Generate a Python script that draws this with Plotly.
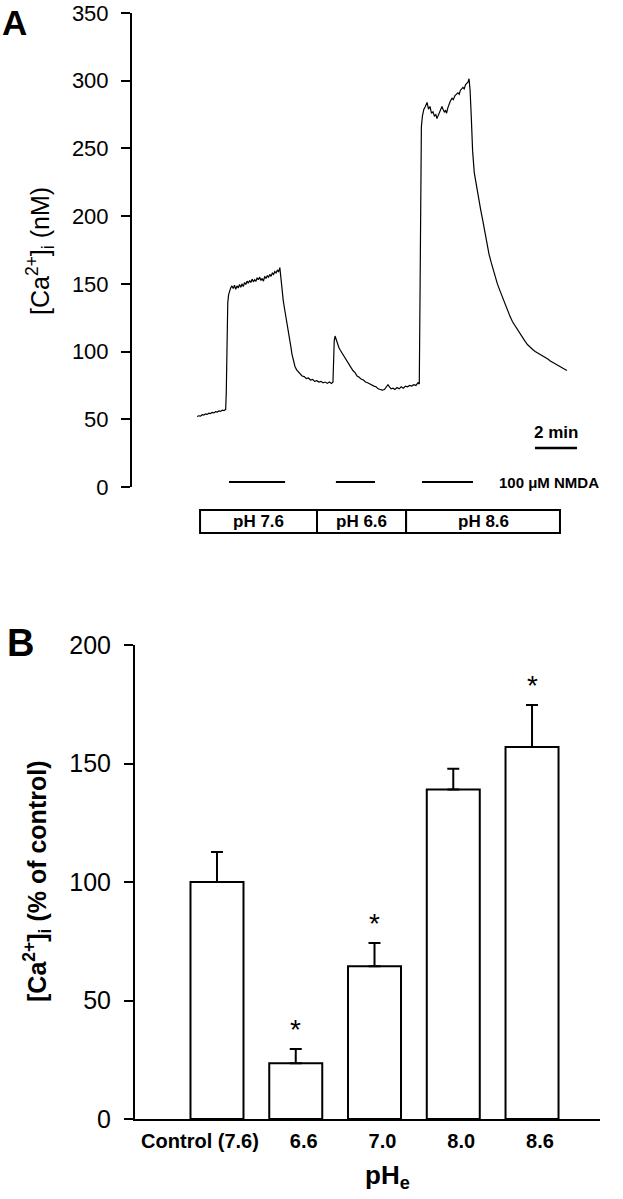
import plotly.graph_objects as go

W, H = 623, 1199

# ---- panel A: [Ca2+]i trace (time in min, value in nM) ----
trace_t = [
    3.10, 3.18, 3.26, 3.34, 3.42, 3.50, 3.58, 3.66, 3.74, 3.82, 3.90, 3.98, 4.06, 4.14, 4.22, 4.30, 4.38, 4.46,
    4.49, 4.51, 4.53, 4.56, 4.60, 4.65, 4.70,
    4.76, 4.82, 4.88, 4.94, 5.00, 5.06, 5.12, 5.18, 5.24, 5.30, 5.36, 5.42, 5.48, 5.54, 5.60, 5.66, 5.72,
    5.78, 5.84, 5.90, 5.96, 6.02, 6.08, 6.14, 6.20, 6.26, 6.32, 6.38, 6.44, 6.50, 6.56, 6.62, 6.68, 6.74,
    6.80, 6.86, 6.92, 6.98, 7.04,
    7.08, 7.12, 7.16, 7.20, 7.26, 7.32, 7.38, 7.44, 7.50, 7.56, 7.62, 7.68, 7.76, 7.84, 7.92, 8.00, 8.10,
    8.20, 8.30, 8.40, 8.50, 8.60, 8.70, 8.80, 8.90, 9.00, 9.10, 9.20, 9.30, 9.40, 9.50, 9.57,
    9.60, 9.63, 9.67, 9.72, 9.78, 9.85, 9.92, 10.00, 10.10, 10.20, 10.30, 10.40, 10.52, 10.62, 10.72,
    10.82, 10.92, 11.02, 11.12, 11.22, 11.32, 11.42, 11.52, 11.62, 11.72, 11.82, 11.92, 12.02, 12.10,
    12.19, 12.26, 12.34, 12.43, 12.52, 12.62, 12.72, 12.82, 12.92, 13.02, 13.12, 13.22, 13.32, 13.42,
    13.52, 13.62, 13.68,
    13.72, 13.75, 13.78, 13.83, 13.90, 13.97, 14.05, 14.12, 14.19, 14.26, 14.33, 14.40, 14.47, 14.52,
    14.58, 14.64, 14.70, 14.76, 14.81, 14.87, 14.93, 14.98, 15.04, 15.10, 15.16, 15.24, 15.30, 15.38,
    15.45, 15.52, 15.58, 15.64, 15.70, 15.76, 15.82, 15.88, 15.94, 16.00, 16.05,
    16.10, 16.16, 16.22, 16.30, 16.40, 16.50, 16.60, 16.70, 16.80, 16.90, 17.00, 17.10, 17.20, 17.30,
    17.40, 17.52, 17.64, 17.76, 17.88, 18.00, 18.12, 18.24, 18.36, 18.48, 18.60, 18.72, 18.84, 18.96,
    19.08, 19.20, 19.32, 19.44, 19.56, 19.68, 19.80, 19.92, 20.04, 20.16, 20.28, 20.40, 20.50, 20.60, 20.71,
]
trace_ca = [
    52.0, 52.6, 52.3, 53.4, 53.1, 54.0, 53.6, 54.5, 54.2, 55.1, 54.7, 55.6, 55.3, 56.2, 55.8, 56.7, 56.4, 57.2,
    70, 100, 122, 136, 142, 145, 147,
    148.5, 146.5, 149, 146, 148.5, 147, 149.5, 147.5, 150, 148, 151, 149.5, 152, 150.5, 152.5, 151, 153.5,
    151.5, 153, 152, 154.5, 153, 155, 152.5, 154, 152, 155.5, 154, 156, 155, 157, 155.5, 158, 157,
    159, 158, 160, 159, 162,
    155, 148, 142, 138, 132, 127, 122, 116, 110, 104, 98, 93, 89, 86.5, 85, 83.5, 82,
    81.5, 80, 80.5, 79, 79.5, 78, 78.5, 77.5, 78, 77, 77.5, 76.5, 77.5, 76.5, 77.5,
    95, 108, 111.5, 109, 106, 103, 101, 99, 96, 93, 90.5, 88.5, 86, 84.5, 82,
    81, 79.5, 79, 77.5, 77, 76, 75.5, 74.5, 74, 72.5, 72, 71.5, 72, 73.5,
    75.5, 74, 72.5, 73, 72, 73.5, 72.5, 74, 73, 74.5, 74, 75, 74.5, 75.5,
    75, 77, 76,
    150, 230, 266, 274, 279, 281, 284, 279, 281, 276, 277, 274, 275, 272,
    274, 276, 278, 281, 279, 277, 278, 276, 280, 283, 285, 287, 286, 289,
    290, 291, 290, 293, 294, 295, 294, 297, 298, 299, 301.5,
    293, 272, 248, 232, 222, 214, 205, 197, 188, 180, 172, 166, 160, 155,
    150, 145, 140, 135, 130, 126, 122, 119, 115.5, 113, 110, 107.5, 105, 103,
    101.5, 100, 99, 97.5, 96.5, 95.5, 94.5, 93, 92, 90.5, 89.5, 88.5, 88, 87, 86,
]

nmda_on = [4.62, 9.71, 13.81]
nmda_off = [7.29, 11.57, 16.24]
ph_edges = [3.24, 8.81, 13.05, 20.38]
ph_labels = ["pH 7.6", "pH 6.6", "pH 8.6"]
scale_start, scale_len = 19.19, 2.0

# ---- panel B: [Ca2+]i as % of control ----
groups = ["Control (7.6)", "6.6", "7.0", "8.0", "8.6"]
pct = [100, 23.5, 64.5, 139, 157]
sem = [12.7, 6.0, 9.8, 8.8, 17.7]
signif = [False, True, True, False, True]


def py(px):
    return 1 - px / H


def pxx(px):
    return px / W


FONT = "Liberation Sans, Arial, sans-serif"

fig = go.Figure()
fig.add_trace(go.Scatter(
    x=trace_t, y=trace_ca, mode="lines",
    line=dict(color="black", width=1.2),
    xaxis="x", yaxis="y", showlegend=False, hoverinfo="skip",
))
fig.add_trace(go.Bar(
    x=list(range(len(groups))), y=pct, width=0.673,
    marker=dict(color="white", line=dict(color="black", width=2)),
    error_y=dict(type="data", array=sem, arrayminus=[0] * len(sem), symmetric=False,
                 color="black", thickness=2, width=6),
    xaxis="x2", yaxis="y2", showlegend=False,
))

shapes = []
ann = []

# NMDA application bars
for a, b in zip(nmda_on, nmda_off):
    shapes.append(dict(type="line", xref="x", yref="paper", x0=a, x1=b, y0=py(482), y1=py(482),
                       line=dict(color="black", width=2)))
ann.append(dict(text="<b>100 \u03bcM NMDA</b>", x=17.38, xref="x", y=py(482), yref="paper",
                xanchor="left", yanchor="middle", showarrow=False, font=dict(size=15)))

# pH boxes
for i, lab in enumerate(ph_labels):
    shapes.append(dict(type="rect", xref="x", yref="paper", x0=ph_edges[i], x1=ph_edges[i + 1],
                       y0=py(533), y1=py(510), line=dict(color="black", width=2)))
    ann.append(dict(text=f"<b>{lab}</b>", x=(ph_edges[i] + ph_edges[i + 1]) / 2, xref="x",
                    y=py(521.5), yref="paper", xanchor="center", yanchor="middle",
                    showarrow=False, font=dict(size=17)))

# scale bar
shapes.append(dict(type="line", xref="x", yref="paper", x0=scale_start, x1=scale_start + scale_len,
                   y0=py(448), y1=py(448), line=dict(color="black", width=2.5)))
ann.append(dict(text="<b>2 min</b>", x=scale_start + scale_len / 2, xref="x", y=py(432), yref="paper",
                xanchor="center", yanchor="middle", showarrow=False, font=dict(size=17)))

# significance stars
for i, s in enumerate(signif):
    if s:
        ann.append(dict(text="*", x=i, xref="x2", y=pct[i] + sem[i], yref="y2", yshift=2,
                        xanchor="center", yanchor="bottom", showarrow=False, font=dict(size=28)))

# panel letters and titles
ann += [
    dict(text="<b>A</b>", x=0, y=py(23), xref="paper", yref="paper", xanchor="left",
         yanchor="middle", showarrow=False, font=dict(size=35)),
    dict(text="<b>B</b>", x=pxx(5), y=py(643), xref="paper", yref="paper", xanchor="left",
         yanchor="middle", showarrow=False, font=dict(size=38)),
    dict(text="[Ca<sup>2+</sup>]<sub>i</sub> (nM)", x=pxx(40), y=py(251), xref="paper", yref="paper",
         xanchor="center", yanchor="middle", textangle=-90, showarrow=False, font=dict(size=25)),
    dict(text="<b>[Ca<sup>2+</sup>]<sub>i</sub> (% of control)</b>", x=pxx(37), y=py(882),
         xref="paper", yref="paper", xanchor="center", yanchor="middle", textangle=-90,
         showarrow=False, font=dict(size=25)),
    dict(text="<b>pH<sub>e</sub></b>", x=pxx(387), y=py(1176), xref="paper", yref="paper",
         xanchor="center", yanchor="middle", showarrow=False, font=dict(size=26)),
]

yax_common = dict(showline=True, linecolor="black", linewidth=2, ticks="outside", ticklen=9,
                  tickwidth=2, tickcolor="black", showgrid=False, zeroline=False,
                  ticklabelstandoff=8, ticklabeloverflow="allow", automargin=False)

# the control label sits a little left of its bar in the original
tick_text = [f"<b>{g}</b>" for g in groups]
tick_text[0] = "<b>" + groups[0] + "\u00a0" * 9 + "</b>"

fig.update_layout(
    width=W, height=H, autosize=False,
    margin=dict(l=0, r=0, t=0, b=0),
    paper_bgcolor="white", plot_bgcolor="white",
    font=dict(family=FONT, color="black"),
    xaxis=dict(domain=[pxx(132), pxx(600)], range=[0, (600 - 132) / 21], visible=False,
               automargin=False),
    yaxis=dict(domain=[py(487), py(13)], range=[0, 350], dtick=50, anchor="x",
               tickfont=dict(size=22), **yax_common),
    xaxis2=dict(domain=[pxx(135), pxx(600)], range=[-1.041, 4.863], anchor="y2",
                tickvals=list(range(len(groups))), ticktext=tick_text, tickangle=0,
                tickfont=dict(size=20), showline=True, linecolor="black", linewidth=2,
                ticks="", showgrid=False, zeroline=False, ticklabelstandoff=3,
                ticklabelshift=8, automargin=False),
    yaxis2=dict(domain=[py(1119), py(645)], range=[0, 200], dtick=50, anchor="x2",
                tickfont=dict(size=25), **yax_common),
    shapes=shapes,
    annotations=ann,
)

# drop the default 8px page margin so the figure fills the window exactly
fig.write_html("out.html", config={"displayModeBar": False},
               post_script="document.body.style.margin = '0';")
